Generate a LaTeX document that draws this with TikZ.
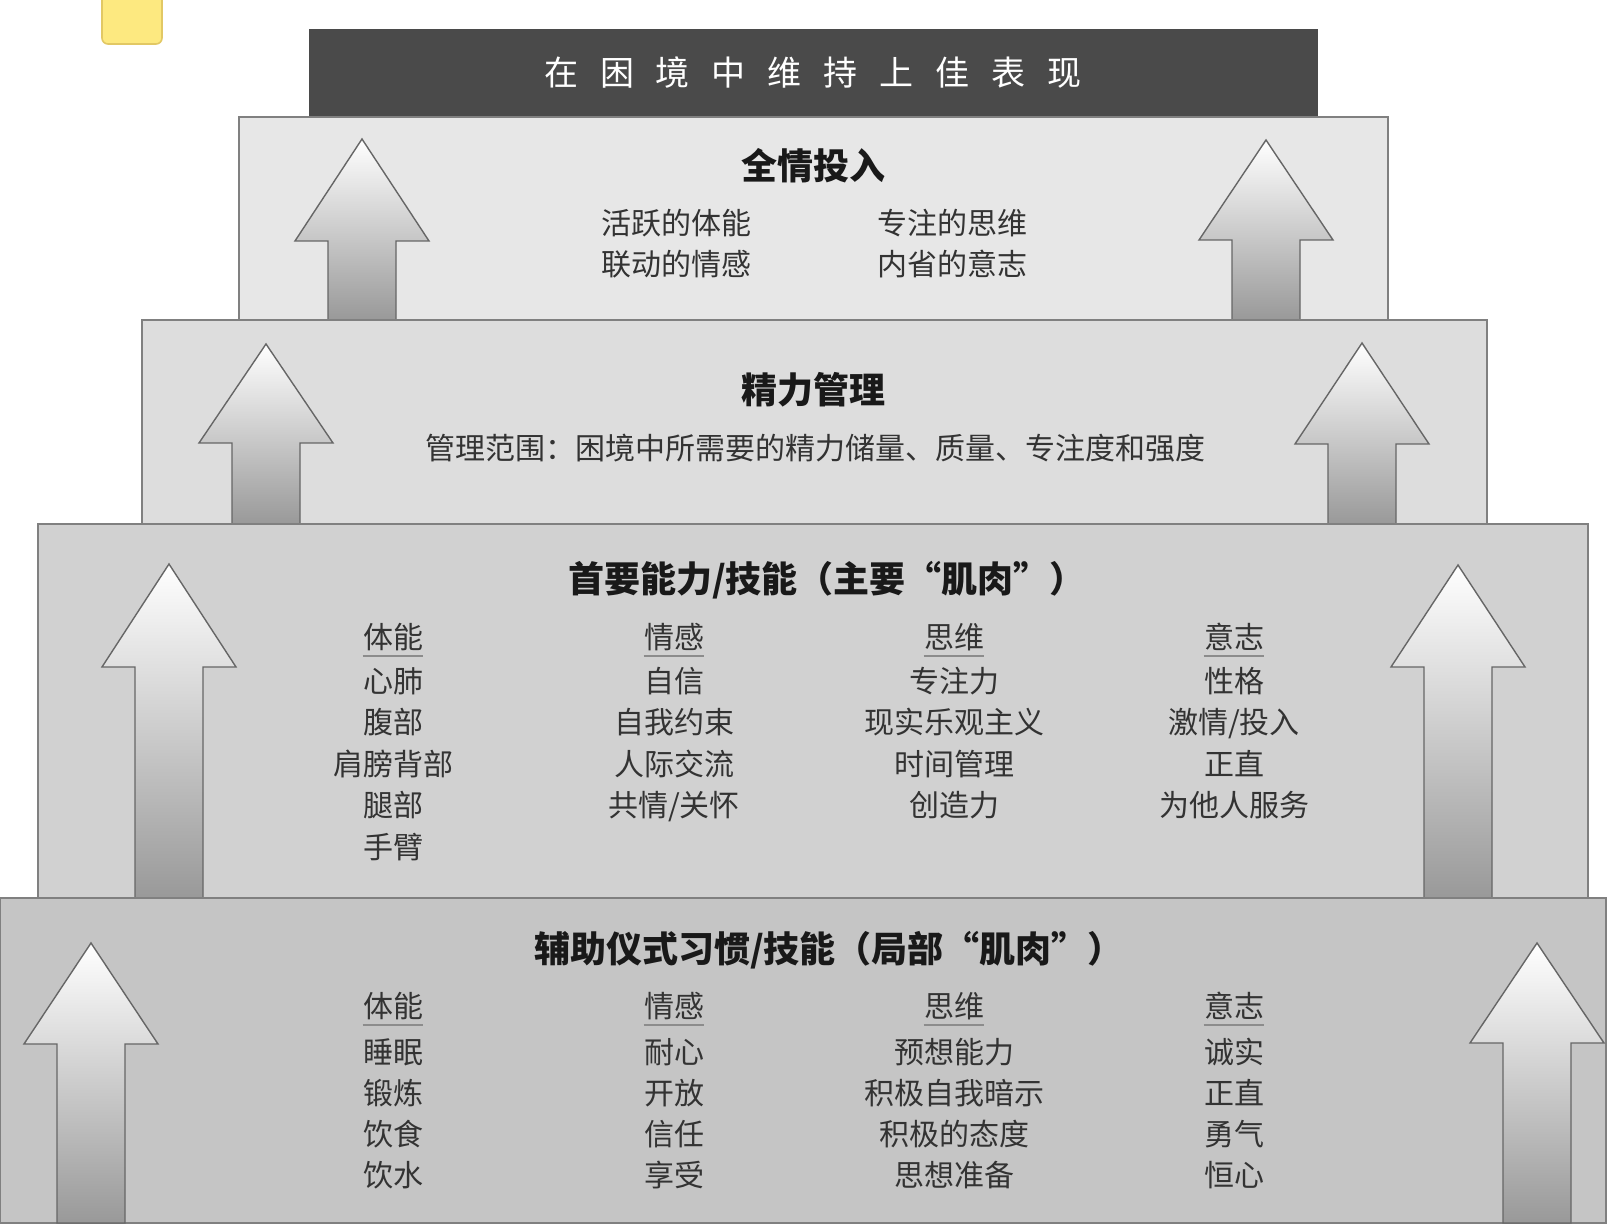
\documentclass[tikz,border=0pt]{standalone}
\usepackage{fontspec}
\newfontfamily\cjk{Noto Sans CJK SC}
\definecolor{lvA}{RGB}{231,231,231}
\definecolor{lvB}{RGB}{221,221,221}
\definecolor{lvC}{RGB}{209,209,209}
\definecolor{lvD}{RGB}{197,197,197}
\definecolor{bar}{RGB}{74,74,74}
\definecolor{yel}{RGB}{253,233,128}
\definecolor{yelb}{RGB}{226,200,100}
\newcommand\uparr[4]{\draw[arr] (#1,#2) -- ({#1+67},#3) -- ({#1+34},#3) -- ({#1+34},#4) -- ({#1-34},#4) -- ({#1-34},#3) -- ({#1-67},#3) -- cycle;}
\newcommand\colm[7]{%
  \node[item] (#1h) at (#2,#3) {#4};
  \draw[black!45, line width=0.8pt] ([yshift=-4pt]#1h.base west) -- ([yshift=-4pt]#1h.base east);
  \foreach \t [count=\i] in {#7} {\node[item] (#1-\i) at (#2, {#3+#5+(\i-1)*#6}) {\t};}
}
\begin{document}
\begin{tikzpicture}[x=0.5pt,y=-0.5pt,
  lvl/.style={draw=black!50, line width=0.9pt},
  arr/.style={draw=black!60, line width=0.7pt, top color=white, bottom color=black!40},
  item/.style={font=\cjk\fontsize{15pt}{15pt}\selectfont, text=black!80, anchor=base, inner sep=0pt},
  head/.style={font=\cjk\bfseries\fontsize{18pt}{18pt}\selectfont, text=black!90, anchor=base, inner sep=0pt},
]
\useasboundingbox (0,0) rectangle (1608,1230);
\clip (0,0) rectangle (1608,1230);
\fill[white] (0,0) rectangle (1608,1230);
% yellow tab
\draw[fill=yel, draw=yelb, line width=0.8pt, rounded corners=3pt] (102,-10) rectangle (162,44);
% title bar
\fill[bar] (309,29) rectangle (1318,117);
\node[font=\cjk\fontsize{17pt}{17pt}\selectfont, text=white, anchor=base, inner sep=0pt] (title) at (813,86)
  {在\hspace{11pt}困\hspace{11pt}境\hspace{11pt}中\hspace{11pt}维\hspace{11pt}持\hspace{11pt}上\hspace{11pt}佳\hspace{11pt}表\hspace{11pt}现};
% level 1
\draw[lvl, fill=lvA] (239,117) rectangle (1388,320);
\uparr{362}{139}{241}{320}
\uparr{1266}{140}{240}{320}
\node[head] (h1) at (813,180) {全情投入};
\node[item] (a1) at (676,235) {活跃的体能};
\node[item] (a2) at (676,276) {联动的情感};
\node[item] (a3) at (952,235) {专注的思维};
\node[item] (a4) at (952,276) {内省的意志};
% level 2
\draw[lvl, fill=lvB] (142,320) rectangle (1487,524);
\uparr{266}{344}{443}{524}
\uparr{1362}{343}{444}{524}
\node[head] (h2) at (813,404) {精力管理};
\node[item] (b1) at (815,459) {管理范围：困境中所需要的精力储量、质量、专注度和强度};
% level 3
\draw[lvl, fill=lvC] (38,524) rectangle (1588,898);
\uparr{169}{564}{667}{898}
\uparr{1458}{565}{667}{898}
\node[head] (h3) at (827,592) {首要能力/技能（主要“肌肉”）};
\colm{p1}{393}{648}{体能}{44}{41.5}{心肺,腹部,肩膀背部,腿部,手臂}
\colm{p2}{674}{648}{情感}{44}{41.5}{自信,自我约束,人际交流,共情/关怀}
\colm{p3}{954}{648}{思维}{44}{41.5}{专注力,现实乐观主义,时间管理,创造力}
\colm{p4}{1234}{648}{意志}{44}{41.5}{性格,激情/投入,正直,为他人服务}
% level 4
\draw[lvl, fill=lvD] (0,898) rectangle (1606,1223);
\uparr{91}{943}{1044}{1223}
\uparr{1537}{943}{1043}{1223}
\node[head] (h4) at (829,962) {辅助仪式习惯/技能（局部“肌肉”）};
\colm{q1}{393}{1017}{体能}{46}{41}{睡眠,锻炼,饮食,饮水}
\colm{q2}{674}{1017}{情感}{46}{41}{耐心,开放,信任,享受}
\colm{q3}{954}{1017}{思维}{46}{41}{预想能力,积极自我暗示,积极的态度,思想准备}
\colm{q4}{1234}{1017}{意志}{46}{41}{诚实,正直,勇气,恒心}
\end{tikzpicture}
\end{document}
